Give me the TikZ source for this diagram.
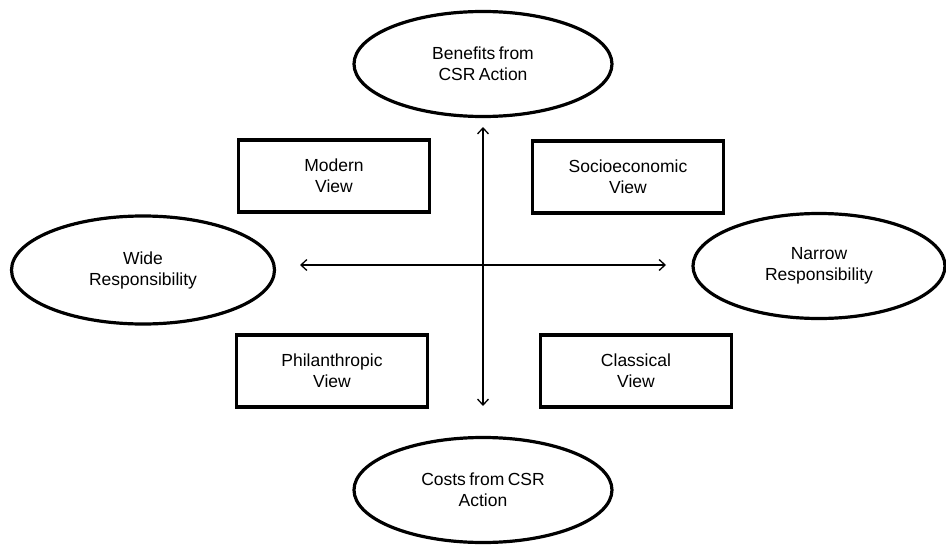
\documentclass[tikz,border=0pt]{standalone}
\usepackage{fontspec}
\setmainfont[WordSpace=0.7]{Liberation Sans}
\usetikzlibrary{shapes.geometric,arrows.meta}
\begin{document}
\begin{tikzpicture}[x=1pt,y=-1pt,
  txt/.style={align=center,font=\fontsize{17.5}{21}\selectfont},
  oval/.style={ellipse,draw,line width=3.2pt,inner sep=0pt,minimum width=258pt,minimum height=105pt,txt},
  viewbox/.style={rectangle,draw,line width=3.2pt,minimum width=191pt,minimum height=72pt,inner sep=0pt,txt},
  axis/.style={line width=1.3pt,{Straight Barb[length=6pt,width=11pt]}-{Straight Barb[length=6pt,width=11pt]}}]
\useasboundingbox (0,0) rectangle (946,546);
\node[oval] (benefits) at (483,64) {Benefits from\\CSR Action};
\node[oval] (costs) at (483,490) {Costs from CSR\\Action};
\node[oval,minimum width=263pt,minimum height=108pt] (wide) at (143,270) {Wide\\Responsibility};
\node[oval,minimum width=252pt] (narrow) at (819,266) {Narrow\\Responsibility};
\node[viewbox] (modern) at (334,176) {Modern\\View};
\node[viewbox] (socio) at (628,177) {Socioeconomic\\View};
\node[viewbox] (phil) at (332,371) {Philanthropic\\View};
\node[viewbox] (classical) at (636,371) {Classical\\View};
\coordinate (vtop) at (483,127);
\coordinate (vbot) at (483,406);
\coordinate (hleft) at (300,265);
\coordinate (hright) at (666,265);
\draw[axis] (vtop) -- (vbot);
\draw[axis] (hleft) -- (hright);
\end{tikzpicture}
\end{document}
